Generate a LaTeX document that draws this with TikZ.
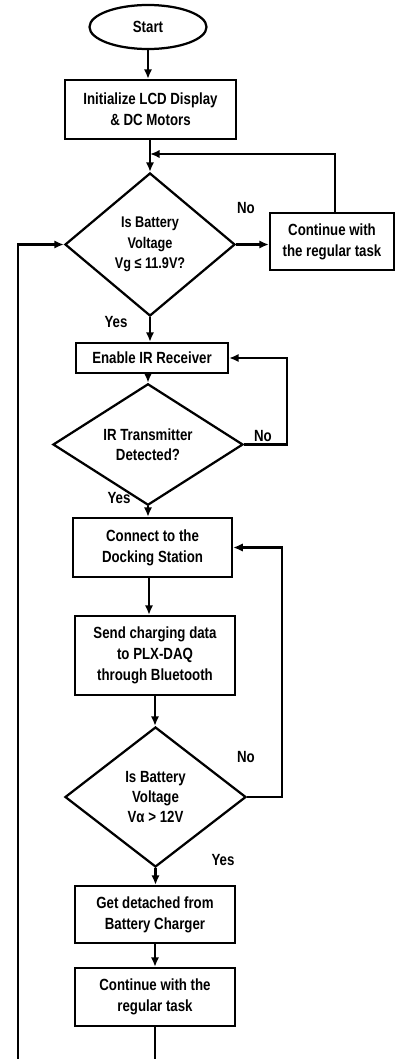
\documentclass[tikz,border=0pt]{standalone}
\usepackage{fontspec}
\setmainfont{Liberation Sans}[FakeStretch=0.82]
\usetikzlibrary{positioning,shapes,arrows.meta}
\tikzset{terminal/.style={ellipse,draw,line width=1.6pt,minimum width=2.925cm,
minimum height=1.1cm,font=\fontsize{11.5}{15}\selectfont\bfseries}}
\tikzset{process/.style={rectangle,draw,line width=1.6pt,align=center,inner sep=0pt,
font=\fontsize{11.5}{15}\selectfont\bfseries}}
\tikzset{decision/.style={diamond,draw,line width=1.6pt,align=center,inner sep=0pt,
font=\fontsize{11}{14.5}\selectfont\bfseries}}
\tikzset{flow/.style={line width=1.5pt,-{Latex[length=2.4mm,width=2.1mm]}}}
\tikzset{answer/.style={font=\fontsize{11.5}{15}\selectfont\bfseries}}

\begin{document}
\begin{tikzpicture}[x=0.025cm,y=-0.025cm]
\useasboundingbox (0,0) rectangle (396,1059);
% nodes
\node[terminal] (Start) at (148,27) {Start};
\node[process,minimum width=4.275cm,minimum height=1.475cm] (Init) at (150.5,109.5)
{Initialize LCD Display\\ \& DC Motors};
\node[decision,minimum width=4.25cm,minimum height=3.575cm] (Bat1) at (150,244.5)
{Is Battery\\ Voltage\\ Vg ≤ 11.9V?};
\node[process,minimum width=3.1cm,minimum height=1.425cm] (Task1) at (332,241.5)
{Continue with\\ the regular task};
\node[process,minimum width=3.8cm,minimum height=0.75cm] (Enable) at (152,358)
{Enable IR Receiver};
\node[decision,minimum width=4.75cm,minimum height=2.375cm,
font=\fontsize{11.5}{14.5}\selectfont\bfseries] (IR) at (148,444.5)
{IR Transmitter\\ Detected?};
\node[process,minimum width=3.975cm,minimum height=1.475cm] (Dock) at (152.5,547.5)
{Connect to the\\ Docking Station};
\node[process,minimum width=4cm,minimum height=1.975cm] (Send) at (155,655.5)
{Send charging data\\ to PLX-DAQ\\ through Bluetooth};
\node[decision,minimum width=4.525cm,minimum height=3.5cm,
font=\fontsize{11.5}{14.5}\selectfont\bfseries] (Bat2) at (155.5,797)
{Is Battery\\ Voltage\\ Vα > 12V};
\node[process,minimum width=4cm,minimum height=1.425cm] (Detach) at (155,914.5)
{Get detached from\\ Battery Charger};
\node[process,minimum width=4cm,minimum height=1.45cm] (Task2) at (155,997)
{Continue with the\\ regular task};
% labels
\node[answer] (No1) at (246,208) {No};
\node[answer] (Yes1) at (116,322) {Yes};
\node[answer] (No2) at (263,436) {No};
\node[answer] (Yes2) at (119,498) {Yes};
\node[answer] (No3) at (246,757) {No};
\node[answer] (Yes3) at (223,860) {Yes};
% helper points
\coordinate (Merge) at (150,154);
\coordinate (Bot) at (155,1068);
\coordinate (Left) at (18,1068);
% connectors
\draw[flow] (Start.south) -- (Start.south |- Init.north);
\draw[flow] (Init.south -| Bat1.north) -- (Bat1.north);
\draw[flow] (Bat1.east) -- (Bat1.east -| Task1.west);
\draw[flow] (Task1.north -| 335,0) |- (Merge);
\draw[flow] (Bat1.south) -- (Bat1.south |- Enable.north);
\draw[flow] (Enable.south -| IR.north) -- (IR.north);
\draw[flow] (IR.east) -- ++(43,0) |- (Enable.east);
\draw[flow] (IR.south) -- (IR.south |- Dock.north);
\draw[flow] (Dock.south -| 149,0) -- (149,0 |- Send.north);
\draw[flow] (Send.south) -- (Send.south |- Bat2.north);
\draw[flow] (Bat2.east) -- ++(35,0) |- (Dock.east);
\draw[flow] (Bat2.south) -- (Bat2.south |- Detach.north);
\draw[flow] (Detach.south) -- (Task2.north);
\draw[flow] (Task2.south) -- (Bot) -- (Left) |- (Bat1.west);
\end{tikzpicture}
\end{document}
